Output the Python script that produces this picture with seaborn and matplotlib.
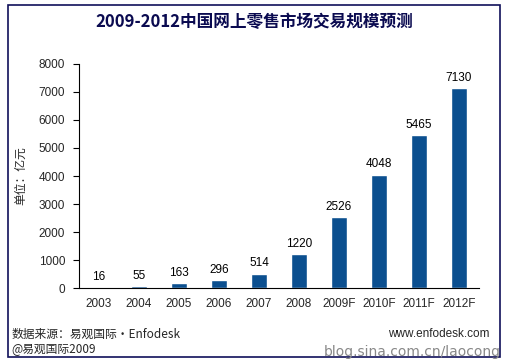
import numpy as np
import pandas as pd
import matplotlib.pyplot as plt
import seaborn as sns
from matplotlib.patches import Rectangle

sns.set_theme(style="white")
plt.rcParams['font.family'] = ['Noto Sans CJK SC', 'DejaVu Sans']

years = ['2003', '2004', '2005', '2006', '2007', '2008', '2009F', '2010F', '2011F', '2012F']
values = [16, 55, 163, 296, 514, 1220, 2526, 4048, 5465, 7130]
yticks = [0, 1000, 2000, 3000, 4000, 5000, 6000, 7000, 8000]

df = pd.DataFrame({'year': years, 'value': values})

fig = plt.figure(figsize=(5.08, 3.63), dpi=100)
ax = fig.add_axes([0.1555, 0.2066, 0.7874, 0.6171])

sns.barplot(data=df, x='year', y='value', color='#0B4F8F', width=0.4,
            saturation=1, ax=ax)
ax.bar_label(ax.containers[0], padding=3, fontsize=8.5, color='black',
             family='Liberation Sans')

ax.set_xlim(-0.5, 9.5)
ax.set_ylim(0, 8000)
ax.set_yticks(yticks)
ax.set_yticklabels([str(t) for t in yticks], fontsize=8.5, family='Liberation Sans')
ax.set_xticks(range(len(years)))
ax.set_xticklabels(years, fontsize=8.5, family='Liberation Sans')
ax.set_xticks(np.arange(-0.5, 10, 1), minor=True)
ax.tick_params(axis='x', which='major', length=0, pad=7)
ax.tick_params(axis='x', which='minor', length=4, direction='out', color='black', width=0.8)
ax.tick_params(axis='y', length=4, direction='out', color='black', width=0.8, left=True, pad=6)
ax.set_xlabel('')
ax.set_ylabel('单位：亿元', fontsize=8.5, labelpad=8)
sns.despine(ax=ax)
for s in ['left', 'bottom']:
    ax.spines[s].set_color('black')
    ax.spines[s].set_linewidth(0.8)

fig.text(0.5, 0.94, '2009-2012中国网上零售市场交易规模预测', ha='center', va='center',
         fontsize=12, fontweight='bold', color='#0A0A50')
fig.text(0.022, 0.080, '数据来源：易观国际•Enfodesk', ha='left', va='center', fontsize=8.5)
fig.text(0.022, 0.038, '@易观国际2009', ha='left', va='center', fontsize=8.5)
fig.text(0.963, 0.080, 'www.enfodesk.com', ha='right', va='center', fontsize=8.5,
         family='Liberation Sans')
fig.text(0.985, 0.030, 'blog.sina.com.cn/laocong', ha='right', va='center', fontsize=10,
         color='#888888', family='DejaVu Sans')

fig.patches.append(Rectangle((0.016, 0.017), 0.968, 0.968, transform=fig.transFigure,
                             fill=False, edgecolor='#10105A', linewidth=1.2))

plt.savefig('out.png', dpi=100)
